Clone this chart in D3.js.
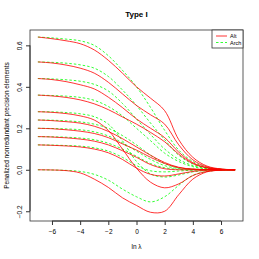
<!DOCTYPE html>
<meta charset="utf-8">
<style>
body { margin: 0; background: #fff; }
text { font-family: "Liberation Sans", Arial, sans-serif; fill: #000; }
</style>
<body>
<div id="chart"></div>
<script src="https://d3js.org/d3.v7.min.js"></script>
<script>

// ln(lambda) grid shared by every path
const lnLambda = [-7, -6, -5, -4, -3, -2, -1, 0, 1, 2, 3, 4, 5, 6, 7];

// Alt paths (red, solid)
const alt = [
  [0.640, 0.632, 0.622, 0.608, 0.578, 0.528, 0.466, 0.400, 0.345, 0.285, 0.145, 0.060, 0.018, 0.004, 0],
  [0.520, 0.515, 0.505, 0.490, 0.466, 0.422, 0.366, 0.310, 0.265, 0.220, 0.120, 0.048, 0.014, 0.003, 0],
  [0.440, 0.435, 0.425, 0.410, 0.390, 0.350, 0.300, 0.245, 0.200, 0.155, 0.085, 0.034, 0.010, 0.002, 0],
  [0.360, 0.356, 0.349, 0.337, 0.318, 0.290, 0.255, 0.220, 0.180, 0.135, 0.075, 0.030, 0.009, 0.002, 0],
  [0.280, 0.277, 0.271, 0.260, 0.240, 0.190, 0.100, 0.008, -0.060, -0.087, -0.068, -0.028, -0.008, -0.002, 0],
  [0.240, 0.237, 0.232, 0.225, 0.210, 0.185, 0.150, 0.110, 0.070, 0.035, 0.012, 0.003, 0.001, 0, 0],
  [0.200, 0.198, 0.193, 0.186, 0.175, 0.155, 0.125, 0.095, 0.060, 0.030, 0.010, 0.003, 0.001, 0, 0],
  [0.160, 0.158, 0.154, 0.148, 0.138, 0.120, 0.092, 0.060, 0.025, 0.005, 0, 0, 0, 0, 0],
  [0.120, 0.118, 0.115, 0.110, 0.100, 0.082, 0.050, 0.008, -0.022, -0.030, -0.020, -0.008, -0.002, 0, 0],
  [0, -0.001, -0.004, -0.015, -0.045, -0.085, -0.135, -0.172, -0.205, -0.200, -0.120, -0.045, -0.010, -0.002, 0]
];

// Arch paths (green, dashed)
const arch = [
  [0.640, 0.636, 0.630, 0.622, 0.600, 0.550, 0.480, 0.400, 0.300, 0.190, 0.095, 0.040, 0.012, 0.003, 0],
  [0.520, 0.518, 0.514, 0.506, 0.490, 0.450, 0.385, 0.310, 0.225, 0.145, 0.070, 0.028, 0.008, 0.002, 0],
  [0.440, 0.438, 0.434, 0.427, 0.412, 0.380, 0.320, 0.245, 0.170, 0.100, 0.050, 0.020, 0.006, 0.001, 0],
  [0.360, 0.358, 0.355, 0.349, 0.335, 0.305, 0.260, 0.200, 0.140, 0.080, 0.040, 0.015, 0.004, 0.001, 0],
  [0.280, 0.279, 0.276, 0.270, 0.256, 0.220, 0.140, 0.040, -0.020, -0.035, -0.025, -0.010, -0.003, -0.001, 0],
  [0.240, 0.239, 0.236, 0.231, 0.220, 0.200, 0.165, 0.120, 0.070, 0.030, 0.010, 0.003, 0.001, 0, 0],
  [0.200, 0.199, 0.197, 0.193, 0.183, 0.163, 0.130, 0.090, 0.050, 0.020, 0.006, 0.002, 0, 0, 0],
  [0.160, 0.159, 0.157, 0.153, 0.145, 0.128, 0.100, 0.065, 0.030, 0.010, 0.002, 0, 0, 0, 0],
  [0.120, 0.119, 0.117, 0.114, 0.106, 0.090, 0.060, 0.020, -0.005, -0.010, -0.006, -0.002, 0, 0, 0],
  [0, -0.001, -0.003, -0.008, -0.022, -0.050, -0.093, -0.130, -0.155, -0.130, -0.075, -0.027, -0.008, -0.002, 0]
];

const xTicks = [-6, -4, -2, 0, 2, 4, 6];
const yTicks = [-0.2, 0.0, 0.2, 0.4, 0.6];
const legendNames = ["Alt", "Arch"];

const W = 259, H = 259;
const margin = {top: 30, right: 16, bottom: 38, left: 30};

const svg = d3.select("#chart").append("svg")
  .attr("width", W).attr("height", H);

const x = d3.scaleLinear().domain([-7.56, 7.56]).range([margin.left, W - margin.right]);
const y = d3.scaleLinear().domain([-0.247, 0.674]).range([H - margin.bottom, margin.top]);

// paths
const line = d3.line()
  .x((d, i) => x(lnLambda[i]))
  .y(d => y(d))
  .curve(d3.curveCatmullRom);

svg.append("g").selectAll("path")
  .data(arch).join("path")
  .attr("d", line)
  .attr("fill", "none")
  .attr("stroke", "#00ff00")
  .attr("stroke-width", 0.8)
  .attr("stroke-dasharray", "2.5,2");

svg.append("g").selectAll("path")
  .data(alt).join("path")
  .attr("d", line)
  .attr("fill", "none")
  .attr("stroke", "#ff0000")
  .attr("stroke-width", 0.8);

// box
svg.append("rect")
  .attr("x", margin.left).attr("y", margin.top)
  .attr("width", W - margin.left - margin.right)
  .attr("height", H - margin.top - margin.bottom)
  .attr("fill", "none").attr("stroke", "#333").attr("stroke-width", 0.8);

// axes
const xAxis = svg.append("g")
  .attr("transform", `translate(0,${H - margin.bottom})`)
  .call(d3.axisBottom(x).tickValues(xTicks).tickSize(4).tickPadding(4).tickFormat(d3.format("d")));
xAxis.select(".domain").attr("d", `M${x(-6)},0H${x(6)}`).attr("stroke", "#333");
xAxis.selectAll("line").attr("stroke", "#333");
xAxis.selectAll("text").attr("font-size", 6.5).attr("font-family", "Liberation Sans, Arial, sans-serif");

const yAxis = svg.append("g")
  .attr("transform", `translate(${margin.left},0)`)
  .call(d3.axisLeft(y).tickValues(yTicks).tickSize(4).tickFormat(d3.format(".1f")));
yAxis.select(".domain").attr("d", `M0,${y(-0.2)}V${y(0.6)}`).attr("stroke", "#333");
yAxis.selectAll("line").attr("stroke", "#333");
yAxis.selectAll("text")
  .attr("font-size", 6.5)
  .attr("font-family", "Liberation Sans, Arial, sans-serif")
  .attr("text-anchor", "middle")
  .attr("x", null).attr("dy", null)
  .attr("transform", "translate(-8,0) rotate(-90)");

// title and axis labels
svg.append("text")
  .attr("x", (margin.left + W - margin.right) / 2).attr("y", 17)
  .attr("text-anchor", "middle")
  .attr("font-size", 8).attr("font-weight", "bold")
  .text("Type I");

svg.append("text")
  .attr("x", (margin.left + W - margin.right) / 2).attr("y", 249)
  .attr("text-anchor", "middle")
  .attr("font-size", 6.5)
  .text("ln λ");

svg.append("text")
  .attr("transform", `translate(9,${(margin.top + H - margin.bottom) / 2}) rotate(-90)`)
  .attr("text-anchor", "middle")
  .attr("font-size", 6.5)
  .text("Penalized nonredundant precision elements");

// legend
const lg = svg.append("g");
lg.append("rect")
  .attr("x", 212).attr("y", margin.top)
  .attr("width", W - margin.right - 212).attr("height", 18)
  .attr("fill", "#fff").attr("stroke", "#333").attr("stroke-width", 0.8);
const legColors = ["#ff0000", "#00ff00"];
const legDash = [null, "2.5,2"];
legendNames.forEach((name, i) => {
  const yy = 36 + i * 6.5;
  lg.append("line")
    .attr("x1", 216).attr("x2", 227).attr("y1", yy).attr("y2", yy)
    .attr("stroke", legColors[i]).attr("stroke-width", 0.8)
    .attr("stroke-dasharray", legDash[i]);
  lg.append("text")
    .attr("x", 230).attr("y", yy + 2)
    .attr("font-size", 5.5)
    .text(name);
});

</script>
</body>
